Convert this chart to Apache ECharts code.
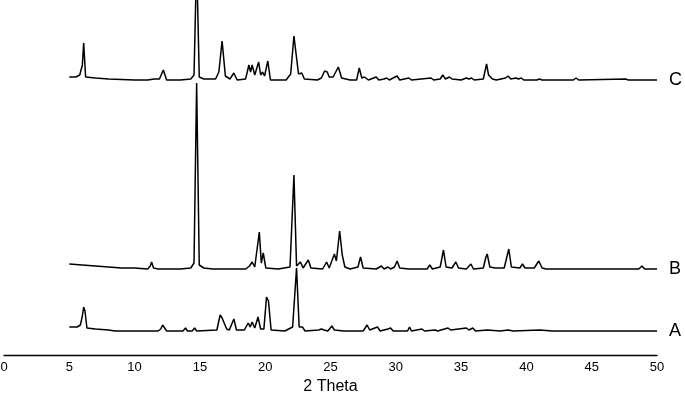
<!DOCTYPE html>
<html>
<head>
<meta charset="utf-8">
<script src="https://cdn.jsdelivr.net/npm/echarts@6/dist/echarts.min.js"></script>
<style>
  html, body { margin: 0; padding: 0; background: #fff; }
  #chart { width: 685px; height: 393px; }
</style>
</head>
<body>
<div id="chart"></div>
<script>
// 2 Theta ticks
var xTicks = [0, 5, 10, 15, 20, 25, 30, 35, 40, 45, 50];
var traceNames = ["A", "B", "C"];
// baseline offsets of the stacked patterns
var offsets = { A: 24, B: 86, C: 275 };

// [2theta, intensity above baseline]
var patternA = [
  [5.0, 4], [5.6, 4], [5.85, 6], [6.0, 15], [6.1, 24], [6.2, 20], [6.35, 3], [7, 2], [8, 1], [8.5, 0],
  [11.8, 0], [12.0, 2], [12.15, 6], [12.3, 4], [12.45, 0], [13.7, 0], [13.9, 3], [14.05, 0], [14.4, 0],
  [14.6, 3], [14.75, 0], [16.3, 1], [16.55, 16], [16.7, 13], [16.85, 14], [17.05, 2], [17.25, 1],
  [17.6, 12], [17.8, 1], [18.4, 1], [18.7, 8], [18.85, 4], [19.0, 9], [19.2, 3], [19.45, 14], [19.65, 2],
  [19.9, 2], [20.1, 34], [20.25, 30], [20.45, 1], [21.5, 0], [22.1, 4], [22.4, 63], [22.6, 4], [22.85, 4],
  [23.05, 0], [24.1, 1], [24.3, 2], [24.5, 1], [24.6, 3], [24.8, 0], [25.1, 5], [25.3, 1], [26, 0],
  [27.5, 0], [27.8, 6], [28.0, 1], [28.6, 4], [28.8, 0], [29.4, 2], [29.6, 3], [29.8, 0], [30.9, 0],
  [31.05, 4], [31.2, 0], [32.0, 2], [32.2, 0], [33.0, 1], [33.2, 0], [34.0, 3], [34.2, 1], [35.4, 3],
  [35.6, 1], [35.9, 3], [36.1, 0], [37, 1], [38, 0], [38.6, 1], [39, 0], [41, 1], [42, 0], [50, 0]
];

var patternB = [
  [5.0, 5], [6, 4], [7, 3], [8, 2], [9, 1], [10, 1], [11, 0], [11.2, 3], [11.3, 7], [11.45, 1],
  [11.8, 0], [13.5, 0], [14.3, 1], [14.55, 6], [14.75, 186], [14.95, 4], [15.3, 1], [16, 0], [18.5, 0],
  [18.8, 3], [19.0, 7], [19.2, 2], [19.55, 37], [19.7, 6], [19.85, 16], [20.05, 1], [21, 0], [21.9, 2],
  [22.2, 94], [22.4, 3], [22.7, 7], [22.9, 1], [23.3, 9], [23.5, 1], [24.4, 0], [24.7, 7], [24.9, 1],
  [25.3, 15], [25.45, 8], [25.7, 38], [25.9, 14], [26.1, 2], [26.5, 0], [27.1, 2], [27.3, 12], [27.5, 1],
  [28.5, 0], [28.9, 3], [29.1, 0], [29.4, 2], [29.6, 0], [29.9, 2], [30.1, 8], [30.3, 1], [31, 0],
  [32.4, 0], [32.6, 4], [32.8, 0], [33.4, 2], [33.65, 19], [33.85, 2], [34.3, 1], [34.6, 7], [34.8, 1],
  [35.4, 0], [35.75, 5], [35.95, 0], [36.7, 1], [36.9, 12], [37.0, 15], [37.2, 2], [37.6, 1], [38.3, 1],
  [38.65, 20], [38.85, 2], [39.5, 1], [39.7, 5], [39.9, 1], [40.6, 1], [40.95, 8], [41.2, 1], [41.5, 0],
  [42, 0], [48.6, 0], [48.85, 3], [49.05, 0], [50, 0]
];

var patternC = [
  [5.0, 3], [5.5, 3], [5.8, 5], [6.0, 15], [6.1, 37], [6.25, 3], [7, 2], [8, 1], [10, 0], [11, 0],
  [11.5, 1], [11.9, 1], [12.2, 10], [12.45, 0], [13.5, 0], [14.3, 1], [14.55, 5], [14.75, 120],
  [14.95, 3], [15.3, 1], [16.2, 1], [16.45, 8], [16.7, 39], [16.95, 4], [17.3, 1], [17.6, 7], [17.85, 0],
  [18.5, 1], [18.75, 15], [18.88, 8], [19.0, 15], [19.2, 5], [19.5, 18], [19.65, 5], [19.8, 8],
  [19.95, 4], [20.2, 19], [20.4, 0], [21.6, 0], [21.95, 6], [22.2, 44], [22.35, 45], [22.55, 6],
  [22.8, 7], [23.0, 1], [24.0, 0], [24.3, 2], [24.55, 9], [24.75, 8], [24.9, 3], [25.05, 4], [25.2, 3],
  [25.35, 3], [25.6, 13], [25.85, 2], [26.5, 0], [27.0, 0], [27.2, 12], [27.4, 2], [27.6, 3], [27.9, 0],
  [28.5, 3], [28.7, 0], [29.1, 1], [29.3, 2], [29.5, 0], [30.1, 4], [30.3, 0], [31.0, 2], [31.2, 0],
  [32.7, 2], [32.9, 0], [33.4, 1], [33.6, 5], [33.8, 1], [34.1, 3], [34.3, 1], [35.0, 0], [35.4, 2],
  [35.6, 1], [35.8, 2], [36.0, 0], [36.7, 1], [36.95, 16], [37.1, 5], [37.4, 1], [37.7, 0], [38.4, 2],
  [38.6, 4], [38.8, 1], [39.2, 2], [39.4, 1], [39.6, 2], [39.8, 0], [40.8, 0], [41.0, 1], [41.2, 0],
  [43.6, 0], [43.8, 2], [44.0, 0], [47.6, 1], [47.8, 0], [50, 0]
];

var patterns = { A: patternA, B: patternB, C: patternC };

function shifted(name) {
  var off = offsets[name];
  return patterns[name].map(function (p) { return [p[0], p[1] + off]; });
}

var myChart = echarts.init(document.getElementById("chart"));

var seriesArr = traceNames.map(function (name) {
  return {
    name: name,
    type: "line",
    data: shifted(name),
    showSymbol: false,
    silent: true,
    clip: true,
    lineStyle: { color: "#000", width: 1.5 },
    endLabel: {
      show: true,
      formatter: "{a}",
      distance: 12,
      color: "#000",
      fontSize: 18,
      fontFamily: "Liberation Sans"
    }
  };
});

myChart.setOption({
  animation: false,
  grid: { left: 4, right: 28, top: 0, bottom: 38, outerBoundsMode: "none" },
  xAxis: {
    type: "value",
    min: 0,
    max: 50,
    interval: 5,
    name: "2 Theta",
    nameLocation: "middle",
    nameGap: 24,
    nameTextStyle: { color: "#000", fontSize: 16, fontFamily: "Liberation Sans" },
    axisLine: { show: true, lineStyle: { color: "#000", width: 1.3 } },
    axisTick: { show: false },
    splitLine: { show: false },
    axisLabel: {
      color: "#000",
      fontSize: 13,
      fontFamily: "Liberation Sans",
      margin: 6,
      formatter: function (v) { return xTicks.indexOf(v) >= 0 ? String(v) : ""; }
    }
  },
  yAxis: {
    type: "value",
    min: 0,
    max: 355,
    show: false
  },
  series: seriesArr
});
</script>
</body>
</html>
